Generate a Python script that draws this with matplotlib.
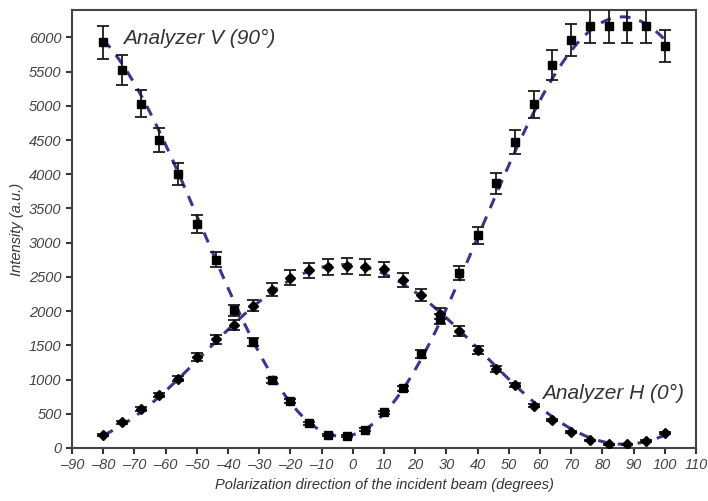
import numpy as np
import matplotlib
matplotlib.use('Agg')
import matplotlib.pyplot as plt

# polarization angle of the incident beam (degrees)
angles = [-80, -74, -68, -62, -56, -50, -44, -38, -32, -26, -20, -14, -8, -2, 4, 10,
          16, 22, 28, 34, 40, 46, 52, 58, 64, 70, 76, 82, 88, 94, 100]

# analyzer V (90 deg) intensities and errors
v_int = [5930, 5520, 5030, 4500, 4000, 3270, 2750, 2010, 1550, 990, 690, 360, 190, 170, 270, 520,
         870, 1370, 1880, 2560, 3110, 3870, 4470, 5020, 5600, 5960, 6170, 6170, 6170, 6170, 5880]
v_err = [240, 220, 200, 180, 160, 130, 110, 80, 60, 40, 30, 20, 15, 15, 15, 25,
         35, 55, 75, 100, 125, 155, 180, 200, 220, 235, 245, 245, 245, 245, 235]

# analyzer H (0 deg) intensities and errors
h_int = [190, 375, 570, 775, 1015, 1330, 1590, 1800, 2080, 2310, 2490, 2600, 2650, 2660, 2650, 2610,
         2450, 2240, 1960, 1710, 1430, 1150, 920, 620, 410, 240, 110, 55, 55, 100, 225]
h_err = [20, 20, 25, 30, 40, 55, 65, 75, 85, 95, 105, 110, 115, 115, 115, 110,
         100, 90, 80, 70, 55, 45, 35, 25, 20, 15, 10, 10, 10, 10, 15]

# Malus-law fit parameters: min, max, angle of extremum
v_fit = (170, 6300, -3.5)
h_fit = (55, 2680, -3.0)

fit_color = '#3b3591'

plt.rcParams['font.family'] = ['Liberation Sans', 'DejaVu Sans']
plt.rcParams['font.style'] = 'italic'

fig = plt.figure(figsize=(7.08, 5.01), dpi=100)
ax = fig.add_axes([0.1017, 0.1058, 0.8813, 0.8742])

theta = np.linspace(-80, 100, 400)
vmin, vmax, v0 = v_fit
hmin, hmax, h0 = h_fit
ax.plot(theta, vmin + (vmax - vmin) * np.sin(np.radians(theta - v0)) ** 2,
        ls=(0, (3.5, 3)), color=fit_color, lw=2.2, zorder=2)
ax.plot(theta, hmin + (hmax - hmin) * np.cos(np.radians(theta - h0)) ** 2,
        ls=(0, (3.5, 3)), color=fit_color, lw=2.2, zorder=2)

ax.errorbar(angles, v_int, yerr=v_err, fmt='s', color='black', ms=5.5,
            ecolor='#1a1a1a', elinewidth=1.3, capsize=4, capthick=1.3, zorder=3)
ax.errorbar(angles, h_int, yerr=h_err, fmt='D', color='black', ms=5,
            ecolor='#1a1a1a', elinewidth=1.3, capsize=4, capthick=1.3, zorder=3)

ax.set_xlim(-90, 110)
ax.set_ylim(0, 6400)
ax.set_xticks(np.arange(-90, 111, 10))
ax.set_yticks(np.arange(0, 6001, 500))
ax.set_xticklabels([str(t).replace('-', '\u2013') for t in range(-90, 111, 10)])

ax.tick_params(direction='out', length=4, width=1.5, labelsize=10.5,
               colors='#333333', labelcolor='#444444')
for s in ax.spines.values():
    s.set_color('#444444')
    s.set_linewidth(1.5)

ax.set_xlabel('Polarization direction of the incident beam (degrees)',
              fontsize=10.5, color='#333333', labelpad=4)
ax.set_ylabel('Intensity (a.u.)', fontsize=10.5, color='#333333', labelpad=4)

ax.text(-73.5, 5980, 'Analyzer V (90°)', fontsize=15, color='#333333', va='center')
ax.text(60.5, 800, 'Analyzer H (0°)', fontsize=15, color='#333333', va='center')

fig.savefig('out.png', dpi=100)
